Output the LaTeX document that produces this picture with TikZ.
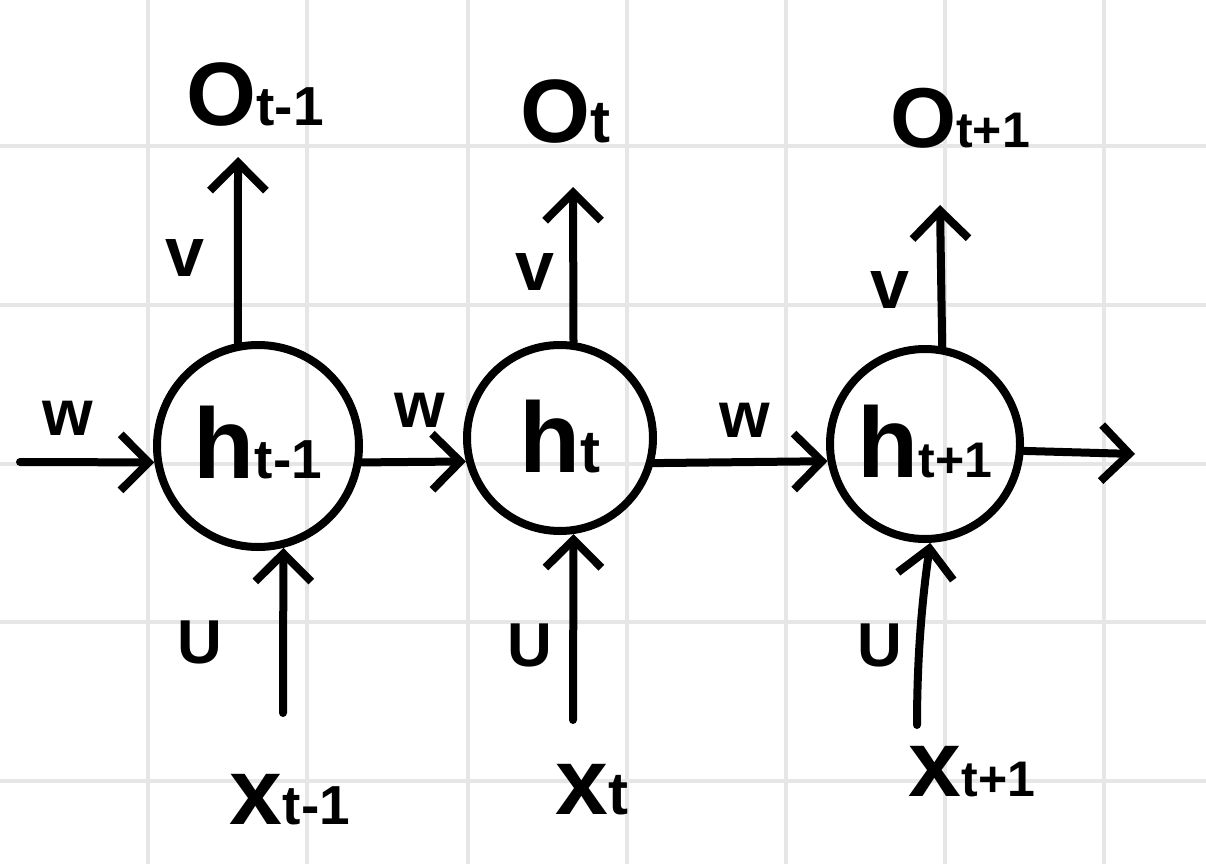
\documentclass[tikz,border=0pt]{standalone}
\usepackage{fontspec}
\setmainfont{Liberation Sans}
\usetikzlibrary{arrows.meta}
\definecolor{gridgray}{HTML}{E6E6E6}
\newcommand{\bigsmall}[4]{{\bfseries\fontsize{#1}{#1}\selectfont #2}{\bfseries\fontsize{#3}{#3}\selectfont #4}}
\newcommand{\fsz}[1]{\bfseries\fontsize{#1}{#1}\selectfont}
\begin{document}
\begin{tikzpicture}[x=1pt,y=-1pt,
  ink/.style={line width=8pt, line cap=round, line join=round},
  arr/.style={ink, -{Straight Barb[length=28pt,width=56pt]}},
  cell/.style={circle, draw, line width=8pt, inner sep=0pt},
  lbl/.style={inner sep=0pt},
  gridline/.style={draw=gridgray, line width=4pt}
]
\useasboundingbox[fill=white] (0,0) rectangle (1206,864);
% grid
\foreach \gx in {148,307,468,627,786,945,1104} \draw[gridline] (\gx,0) -- (\gx,864);
\foreach \gy in {146,305,464,622,781} \draw[gridline] (0,\gy) -- (1206,\gy);

% cells
\node[cell, minimum size=202pt] (h1) at (258,446) {\raisebox{8pt}{\bigsmall{100}{h}{55}{t-1}}};
\node[cell, minimum size=186pt] (h2) at (560,438) {\raisebox{4pt}{\bigsmall{100}{h}{60}{t}}};
\node[cell, minimum size=190pt] (h3) at (925,444) {\raisebox{6pt}{\bigsmall{100}{h}{50}{t+1}}};

% outputs
\node[lbl] (o1) at (255,95) {\bigsmall{90}{O}{55}{t-1}};
\node[lbl] (o2) at (565,112) {\bigsmall{90}{O}{60}{t}};
\node[lbl] (o3) at (960,118) {\bigsmall{85}{O}{50}{t+1}};

% inputs
\node[lbl] (x1) at (290,800) {\bigsmall{95}{x}{55}{t-1}};
\node[lbl] (x2) at (592,790) {\bigsmall{95}{x}{60}{t}};
\node[lbl] (x3) at (972,772) {\bigsmall{95}{x}{50}{t+1}};

% weight labels
\node[lbl, font=\fsz{70}] (v1) at (185,258) {v};
\node[lbl, font=\fsz{70}] (v2) at (535,272) {v};
\node[lbl, font=\fsz{70}] (v3) at (890,290) {v};
\node[lbl, font=\fsz{65}] (w0) at (68,418) {w};
\node[lbl, font=\fsz{65}] (w1) at (420,410) {w};
\node[lbl, font=\fsz{65}] (w2) at (745,420) {w};
\node[lbl, font=\fsz{62}] (u1) at (200,642) {U};
\node[lbl, font=\fsz{62}] (u2) at (530,645) {U};
\node[lbl, font=\fsz{62}] (u3) at (880,645) {U};

% free ends
\coordinate (in0) at (20,462);
\coordinate (out3) at (1135,454);
\coordinate (t1) at (238,157);
\coordinate (t2) at (573,187);
\coordinate (t3) at (940,205);
\coordinate (b1) at (283,713);
\coordinate (b2) at (573,720);
\coordinate (b3) at (917,725);

% horizontal connectors
\draw[arr] (in0) -- (h1.189);
\draw[arr] (h1.351) -- (h2.194);
\draw[arr] (h2.345) -- (h3.190);
\draw[arr] (h3.356) -- (out3);

% vertical connectors
\draw[arr] (h1.101) -- (t1);
\draw[arr] (h2.82) -- (t2);
\draw[arr] (h3.80) -- (t3);
\draw[arr] (b1) -- (h1.284);
\draw[arr] (b2) -- (h2.278);
\draw[arr] (b3) .. controls (917,640) and (925,580) .. (h3.273);
\end{tikzpicture}
\end{document}
